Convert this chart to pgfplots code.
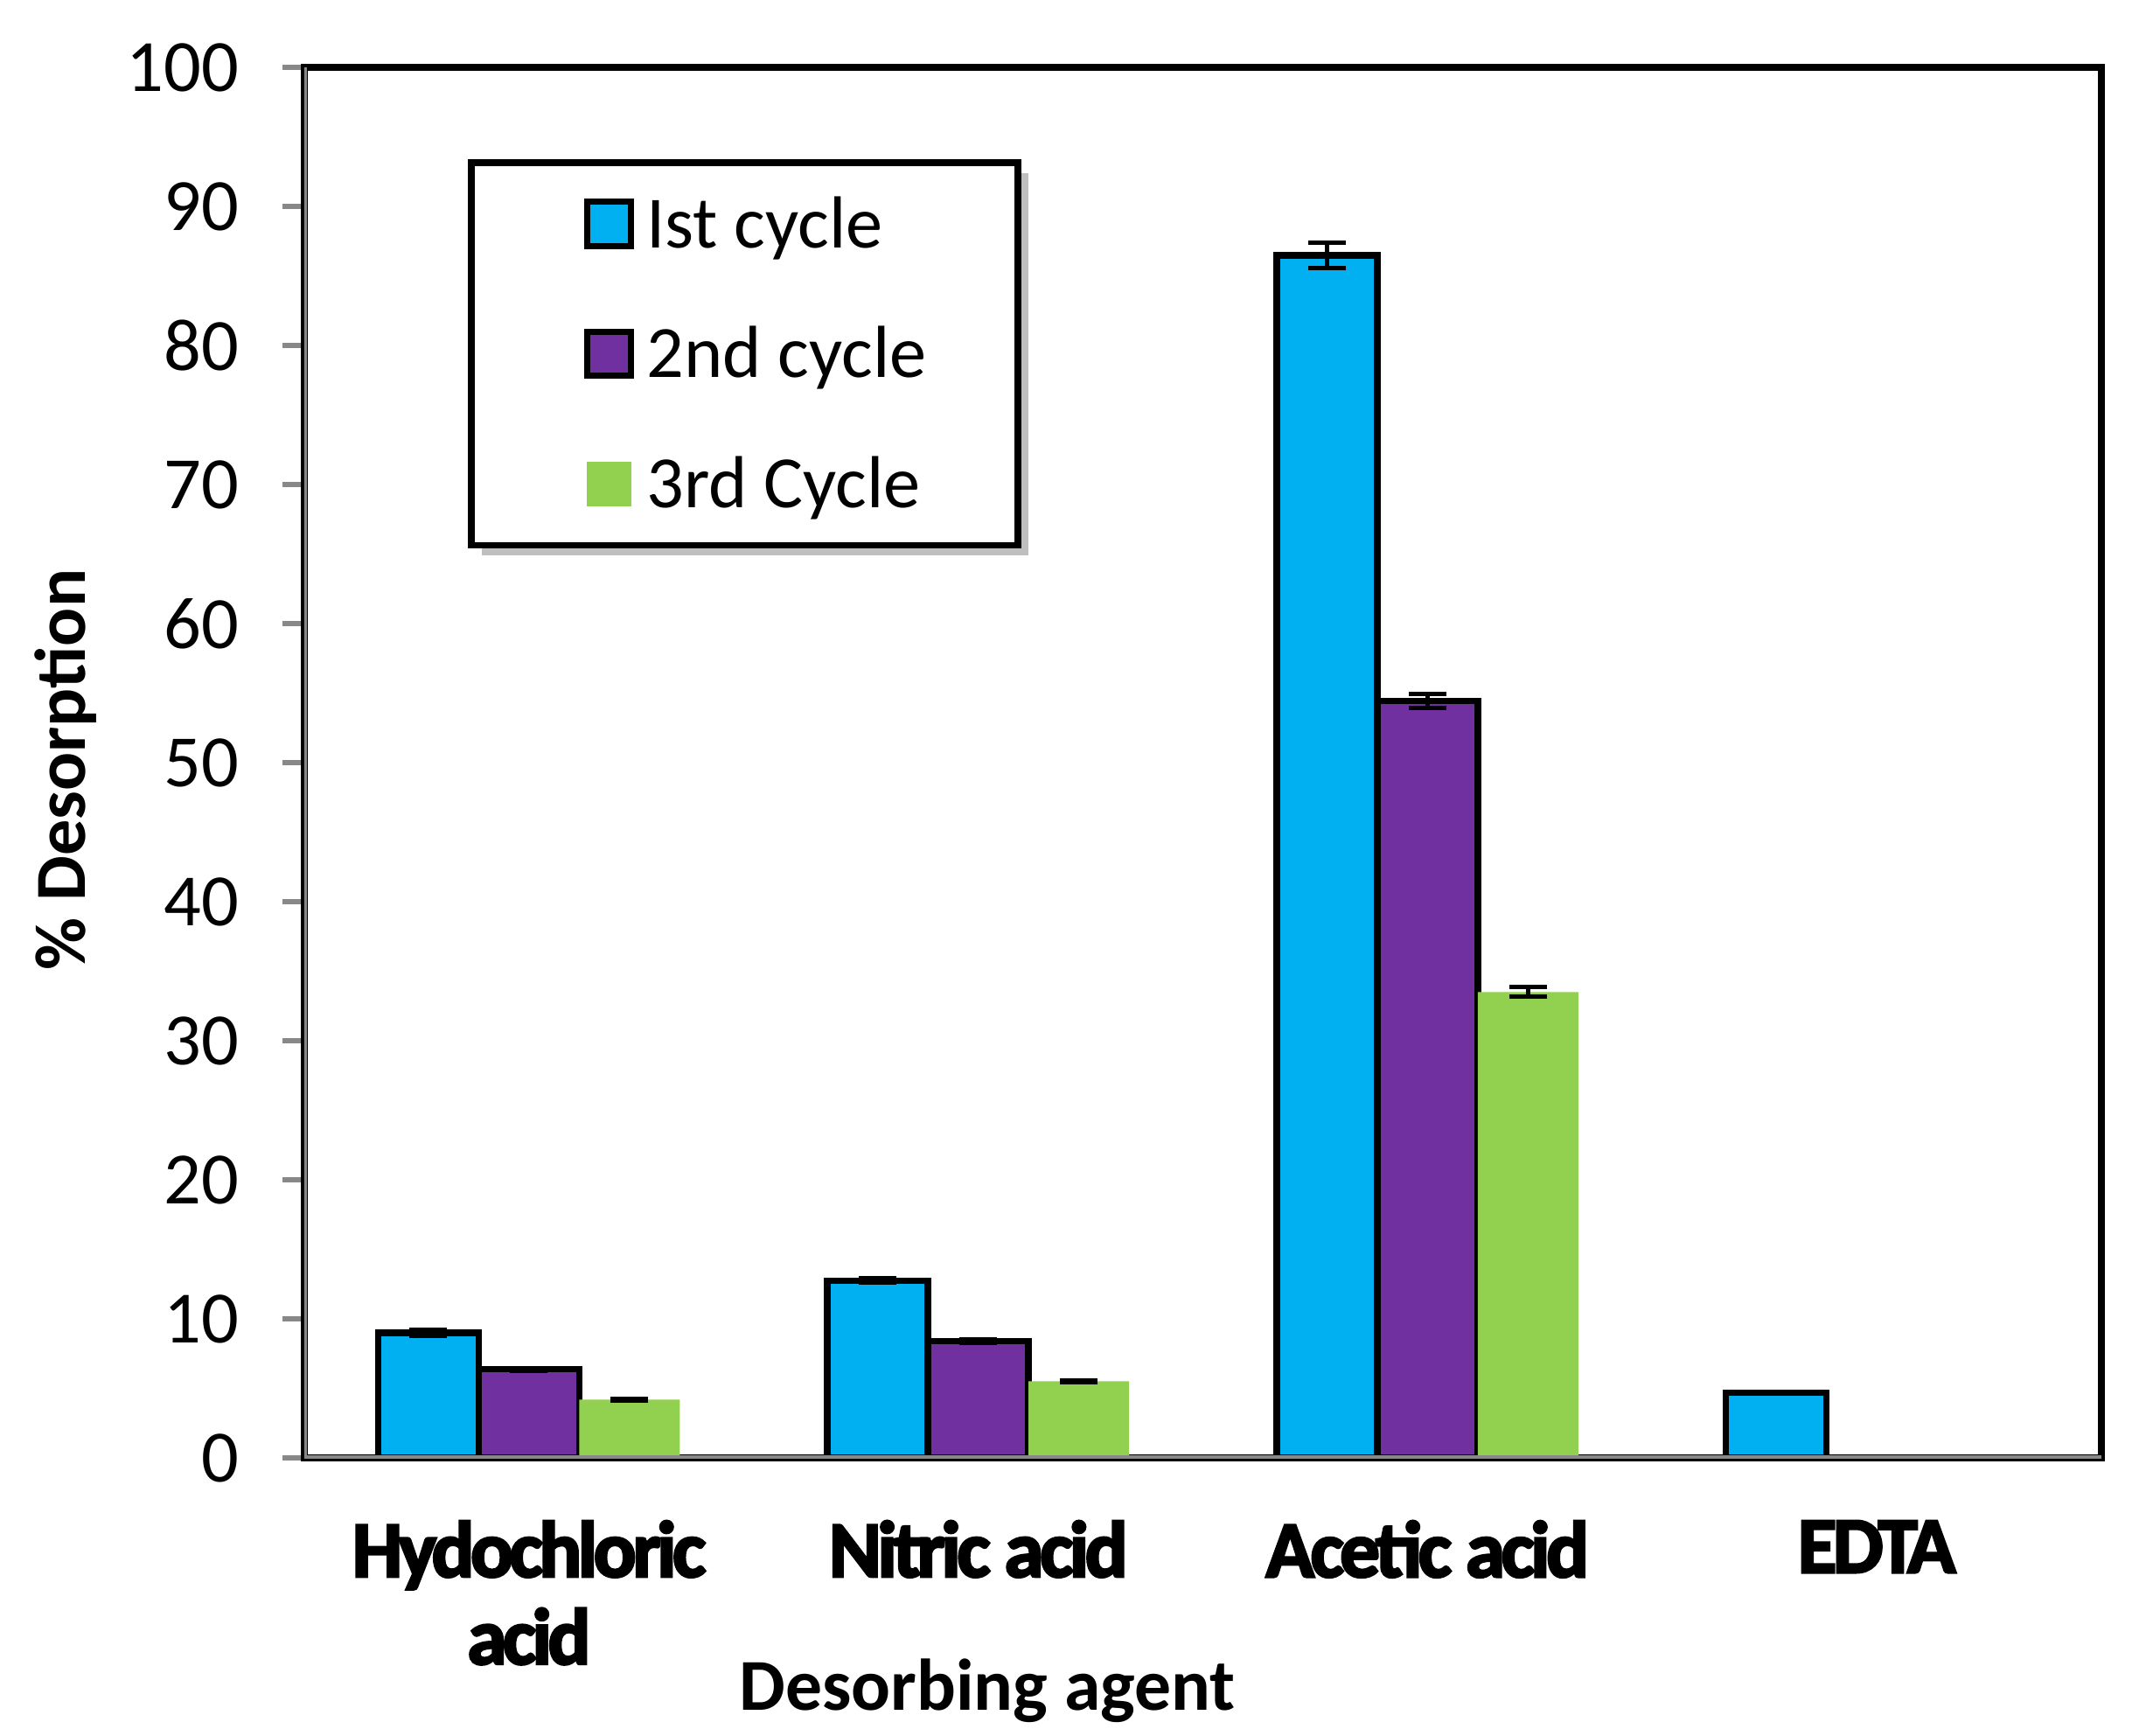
\documentclass[border=0pt]{standalone}
\usepackage{fontspec}
\setmainfont{Carlito}
\newfontface\tickbold{Carlito Bold}[FakeBold=3,LetterSpace=-5]
\usepackage{pgfplots}
\pgfplotsset{compat=1.18}
\usetikzlibrary{shadows}

\definecolor{cyc1}{HTML}{00B0F0}
\definecolor{cyc2}{HTML}{7030A0}
\definecolor{cyc3}{HTML}{92D050}
\definecolor{axgray}{HTML}{888888}

% legend swatch drawn with plain pgf so the legend's drop shadow is not repeated on it
\newcommand{\swatch}[2]{%
  \pgfpathrectangle{\pgfpoint{0cm}{0cm}}{\pgfpoint{0.393cm}{0.001cm}}\pgfusepath{}%
  \pgfsetfillcolor{#1}%
  \pgfpathrectangle{\pgfpoint{0.14cm}{-0.1265cm}}{\pgfpoint{0.253cm}{0.253cm}}%
  \ifx#2y\pgfsetlinewidth{1pt}\pgfsetstrokecolor{black}\pgfusepath{fill,stroke}\else\pgfusepath{fill}\fi}

\begin{document}
\begin{tikzpicture}
\begin{axis}[
    name=ax,
    scale only axis,
    width=10.275cm, height=7.95cm,
    ybar=0pt, bar width=0.575cm,
    xmin=0, xmax=4, ymin=0, ymax=100,
    axis line style={black, line width=1.2pt},
    tick pos=left, tick align=outside,
    xtick={0.5,1.5,2.5,3.5},
    xticklabels={{Hydochloric\\acid}, Nitric acid, Acetic acid, EDTA},
    xtick style={draw=none},
    minor xtick={0,1,2,3,4},
    minor x tick style={axgray, line width=0.85pt},
    minor tick length=0.135cm,
    major tick length=0.125cm,
    ytick={0,10,...,100},
    ytick style={axgray, line width=0.85pt},
    /pgf/number format/assume math mode=true,
    yticklabel style={font=\fontsize{12}{14}\selectfont, xshift=-0.125cm},
    xticklabel style={font=\tickbold\fontsize{13}{14.2}\selectfont, align=center, yshift=-0.11cm},
    ylabel={\% Desorption},
    ylabel style={font=\bfseries\fontsize{11.7}{14}\selectfont, at={(axis description cs:-0.133,0.495)}, anchor=center},
    xlabel={Desorbing agent},
    xlabel style={font=\bfseries\fontsize{11.9}{14}\selectfont, at={(axis description cs:0.380,0)}, anchor=base, yshift=-1.44cm},
    legend style={at={(axis description cs:0.0912,0.934)}, anchor=north west,
      draw=black, line width=1.1pt, fill=white,
      drop shadow={shadow xshift=0.06cm, shadow yshift=-0.06cm, opacity=0.5},
      inner xsep=0.52cm, inner ysep=0.186cm, row sep=0.413cm, column sep=0.07cm,
      font=\fontsize{12}{14}\selectfont,
      nodes={inner sep=0pt, text height=0.3cm, text depth=0.03cm}},
    legend cell align=left,
    error bars/y dir=both, error bars/y explicit,
    error bars/error mark options={rotate=90, black, line width=0.7pt, mark size=0.107cm},
    error bars/error bar style={black, line width=0.7pt},
]
\addplot[fill=cyc1, draw=black, line width=1.04pt,
  legend image code/.code={\swatch{cyc1}{y}}] coordinates {
  (0.5,9.0) +- (0,0.2)
  (1.5,12.75) +- (0,0.15)
  (2.5,86.47) +- (0,0.9)
  (3.5,4.68) +- (0,0)
};
\addlegendentry{Ist cycle}
\addplot[fill=cyc2, draw=black, line width=1.04pt,
  legend image code/.code={\swatch{cyc2}{y}}] coordinates {
  (0.5,6.38) +- (0,0.1)
  (1.5,8.4) +- (0,0.1)
  (2.5,54.45) +- (0,0.5)
};
\addlegendentry{2nd cycle}
\addplot[fill=cyc3, draw=none,
  legend image code/.code={\swatch{cyc3}{n}}] coordinates {
  (0.5,4.2) +- (0,0.08)
  (1.5,5.52) +- (0,0.08)
  (2.5,33.5) +- (0,0.35)
};
\addlegendentry{3rd Cycle}
\draw[axgray, line width=0.85pt] (rel axis cs:0,1) -- (rel axis cs:0,0) -- (rel axis cs:1,0);
\end{axis}
\pgfresetboundingbox
\path[use as bounding box] ([xshift=-1.74cm,yshift=-1.585cm]ax.south west) rectangle ([xshift=0.295cm,yshift=0.385cm]ax.north east);
\end{tikzpicture}
\end{document}
